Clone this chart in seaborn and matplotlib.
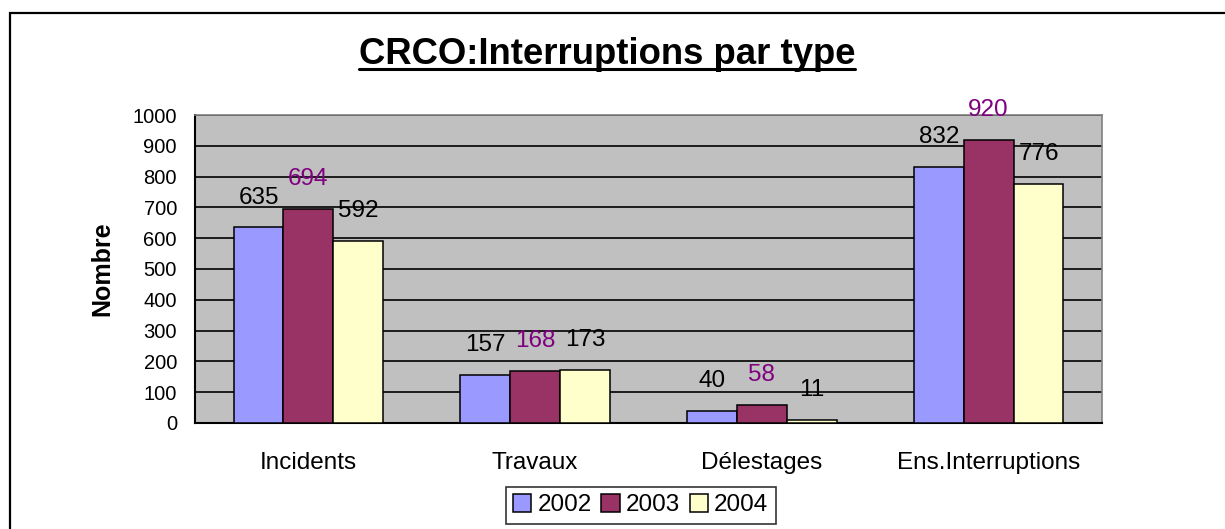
import pandas as pd
import seaborn as sns
import matplotlib
matplotlib.use("Agg")
import matplotlib.pyplot as plt
from matplotlib.patches import Rectangle, Patch
from matplotlib.lines import Line2D

# donnees
types = ["Incidents", "Travaux", "Délestages", "Ens.Interruptions"]
annees = ["2002", "2003", "2004"]
val_2002 = [635, 157, 40, 832]
val_2003 = [694, 168, 58, 920]
val_2004 = [592, 173, 11, 776]
y_ticks = list(range(0, 1001, 100))

couleurs = {"2002": "#9999FF", "2003": "#993366", "2004": "#FFFFCC"}
couleurs_labels = {"2002": "black", "2003": "#800080", "2004": "black"}

df = pd.DataFrame({
    "type": types * 3,
    "annee": ["2002"] * 4 + ["2003"] * 4 + ["2004"] * 4,
    "nombre": val_2002 + val_2003 + val_2004,
})

sns.set_theme(style="white")
plt.rcParams["font.family"] = ["Liberation Sans", "DejaVu Sans"]
plt.rcParams.update({"text.color": "black", "axes.labelcolor": "black",
                     "xtick.color": "black", "ytick.color": "black"})

fig = plt.figure(figsize=(12.25, 5.29), dpi=100)
ax = fig.add_axes([0.1592, 0.2004, 0.7404, 0.5822])
ax.set_facecolor("#C0C0C0")

sns.barplot(data=df, x="type", y="nombre", hue="annee", hue_order=annees,
            palette=couleurs, width=0.66, edgecolor="black", linewidth=1.1,
            saturation=1, ax=ax, legend=False, zorder=3)

ax.set_ylim(0, 1000)
ax.set_xlim(-0.5, len(types) - 0.5)
ax.set_yticks(y_ticks)
ax.set_yticklabels([str(v) for v in y_ticks], fontsize=14.5)
ax.yaxis.grid(True, color="black", linewidth=1.2, zorder=1)
ax.set_axisbelow(True)
ax.tick_params(axis="y", direction="out", length=6, width=1.3, color="black", pad=7)

# ticks entre les categories, libelles au centre
ax.set_xticks([i - 0.5 for i in range(len(types) + 1)])
ax.set_xticklabels([])
ax.set_xticks(range(len(types)), minor=True)
ax.set_xticklabels(types, minor=True, fontsize=17.5)
ax.tick_params(axis="x", which="major", direction="out", length=6, width=1.3, color="black")
ax.tick_params(axis="x", which="minor", length=0, pad=21)
ax.set_xlabel("")
ax.set_ylabel("Nombre", fontsize=18, fontweight="bold", labelpad=13)

for s in ["left", "bottom"]:
    ax.spines[s].set_color("black")
    ax.spines[s].set_linewidth(1.5)
for s in ["top", "right"]:
    ax.spines[s].set_color("#808080")
    ax.spines[s].set_linewidth(1.2)

# etiquettes de valeurs
for annee, cont in zip(annees, ax.containers):
    for bar in cont:
        h = bar.get_height()
        ax.text(bar.get_x() + bar.get_width() / 2, h + 97, f"{h:.0f}",
                ha="center", va="center", fontsize=17.5,
                color=couleurs_labels[annee], zorder=5, clip_on=False)

# legende
handles = [Patch(facecolor=couleurs[a], edgecolor="black", linewidth=1.1) for a in annees]
leg = fig.legend(handles, annees, loc="center", bbox_to_anchor=(0.523, 0.045),
                 ncol=3, fontsize=17.5, frameon=True, fancybox=False,
                 edgecolor="black", handlelength=0.75, handleheight=0.75,
                 handletextpad=0.25, columnspacing=0.4, borderpad=0.3,
                 borderaxespad=0)
leg.get_frame().set_linewidth(1.2)

# titre souligne
titre = fig.text(607 / 1225, 1 - 64 / 529, "CRCO:Interruptions par type",
                 ha="center", va="baseline", fontsize=26.3, fontweight="bold",
                 color="black")
fig.canvas.draw()
bb = titre.get_window_extent(renderer=fig.canvas.get_renderer())
x0 = bb.x0 / fig.bbox.width
x1 = bb.x1 / fig.bbox.width
y_base = 1 - 68.5 / 529
fig.add_artist(Line2D([x0, x1], [y_base, y_base], color="black", linewidth=2.2,
                      transform=fig.transFigure))

# cadre autour du graphique
fig.add_artist(Rectangle((10 / 1225, -0.5), 2, 1 - 13 / 529 + 0.5, fill=False,
                         edgecolor="black", linewidth=1.6, transform=fig.transFigure))

fig.savefig("out.png", dpi=100)
